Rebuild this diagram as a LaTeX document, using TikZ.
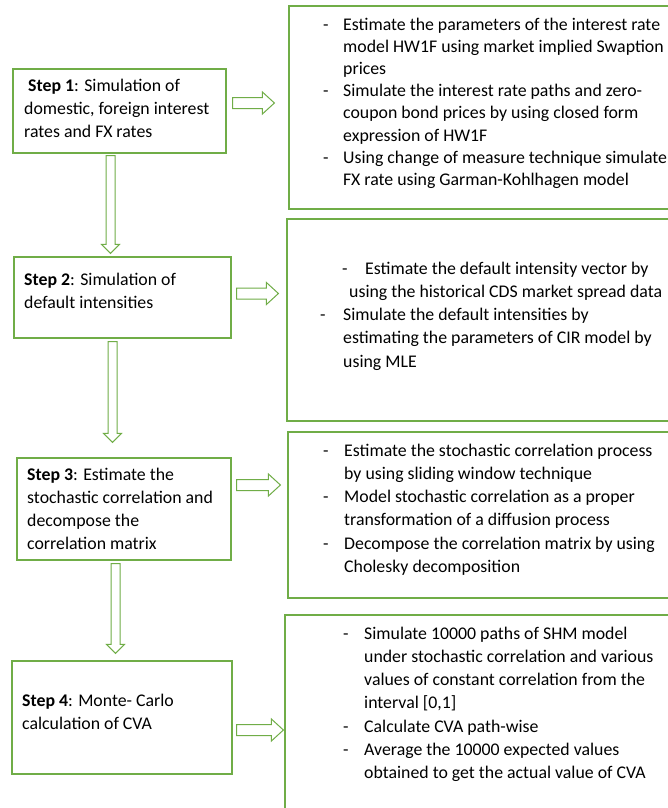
\documentclass[tikz,border=0pt]{standalone}
\usepackage{fontspec}
\setmainfont{Carlito}
\usetikzlibrary{calc,fit}
\definecolor{stepgreen}{HTML}{70AD47}
\newcommand\dashitem[1][20pt]{\makebox[#1][l]{-}}
\newcommand\indentby[1][20pt]{\hspace*{#1}}

\begin{document}
\begin{tikzpicture}[x=1pt,y=-1pt,
    stepbox/.style={draw=stepgreen, line width=1.2pt, inner sep=0pt},
    steptext/.style={anchor=base west, inner sep=0pt, align=left,
        font=\fontsize{17.8}{23.3}\selectfont},
    harrow/.style={draw=stepgreen, line width=1pt, line join=miter,
        to path={let \p1=(\tikztostart), \p2=(\tikztotarget) in
        (\x1,\y1+5.5pt) -- (\x2-12pt,\y1+5.5pt) -- (\x2-12pt,\y1+11pt) -- (\x2,\y1)
        -- (\x2-12pt,\y1-11pt) -- (\x2-12pt,\y1-5.5pt) -- (\x1,\y1-5.5pt) -- cycle}},
    varrow/.style={draw=stepgreen, line width=1pt, line join=miter,
        to path={let \p1=(\tikztostart), \p2=(\tikztotarget) in
        (\x1-4.5pt,\y1) -- (\x1-4.5pt,\y2+9pt) -- (\x1-9pt,\y2+9pt) -- (\x1,\y2)
        -- (\x1+9pt,\y2+9pt) -- (\x1+4.5pt,\y2+9pt) -- (\x1+4.5pt,\y1) -- cycle}}]
    \path[use as bounding box, fill=white] (0,0) rectangle (668,808);
    \clip (0,0) rectangle (668,808);

    % steps on the left
    \node[stepbox, fit={(13,69) (226,153)}] (s1) {};
    \node[stepbox, fit={(14,257) (231,338)}] (s2) {};
    \node[stepbox, fit={(17,458) (231,560)}] (s3) {};
    \node[stepbox, fit={(12,661) (232,774)}] (s4) {};

    % details on the right
    \node[stepbox, fit={(289,6) (700,209)}] (d1) {};
    \node[stepbox, fit={(287,219) (700,421)}] (d2) {};
    \node[stepbox, fit={(288,432) (700,598)}] (d3) {};
    \node[stepbox, fit={(285,615) (700,830)}] (d4) {};

    % texts (placed at the baseline of their last line)
    \node[steptext] (t1) at (24,137.6) {\indentby[4pt]\textbf{Step 1}: Simulation of\\
        domestic, foreign interest\\ rates and FX rates};
    \node[steptext] (t2) at (24,308.3) {\textbf{Step 2}: Simulation of\\ default intensities};
    \node[steptext] (t3) at (27,549.9) {\textbf{Step 3}: Estimate the\\
        stochastic correlation and\\ decompose the\\ correlation matrix};
    \node[steptext] (t4) at (22,729.3) {\textbf{Step 4}: Monte- Carlo\\ calculation of CVA};

    \node[steptext, font=\fontsize{17.8}{22.2}\selectfont] (b1) at (323,185.4) {%
        \dashitem Estimate the parameters of the interest rate\\
        \indentby model HW1F using market implied Swaption\\
        \indentby prices\\
        \dashitem Simulate the interest rate paths and zero-\\
        \indentby coupon bond prices by using closed form\\
        \indentby expression of HW1F\\
        \dashitem Using change of measure technique simulate\\
        \indentby FX rate using Garman-Kohlhagen model};
    \node[steptext] (b2) at (320,367.2) {%
        \indentby[22pt]\dashitem[23pt]Estimate the default intensity vector by\\
        \indentby[29pt]using the historical CDS market spread data\\
        \dashitem[23pt]Simulate the default intensities by\\
        \indentby[23pt]estimating the parameters of CIR model by\\
        \indentby[23pt]using MLE};
    \node[steptext] (b3) at (323,572.5) {%
        \dashitem[21pt]Estimate the stochastic correlation process\\
        \indentby[21pt]by using sliding window technique\\
        \dashitem[21pt]Model stochastic correlation as a proper\\
        \indentby[21pt]transformation of a diffusion process\\
        \dashitem[21pt]Decompose the correlation matrix by using\\
        \indentby[21pt]Cholesky decomposition};
    \node[steptext] (b4) at (343,778.8) {%
        \dashitem[21pt]Simulate 10000 paths of SHM model\\
        \indentby[21pt]under stochastic correlation and various\\
        \indentby[21pt]values of constant correlation from the\\
        \indentby[21pt]interval [0,1]\\
        \dashitem[21pt]Calculate CVA path-wise\\
        \dashitem[21pt]Average the 10000 expected values\\
        \indentby[21pt]obtained to get the actual value of CVA};

    % block arrows
    \draw[harrow] ([xshift=6pt,yshift=8pt]s1.east) to ([xshift=-14pt]d1.west);
    \draw[harrow] ([xshift=5pt,yshift=4pt]s2.east) to ([xshift=-8pt]d2.west);
    \draw[harrow] ([xshift=5pt,yshift=24pt]s3.east) to ([xshift=-7pt]d3.west);
    \draw[harrow] ([xshift=4pt,yshift=-12.5pt]s4.east) to ([xshift=-1pt]d4.west);

    \draw[varrow] ([xshift=-9pt,yshift=-2pt]s1.south) to ([yshift=3pt]s2.north);
    \draw[varrow] ([xshift=-10pt,yshift=-3pt]s2.south) to ([yshift=15pt]s3.north);
    \draw[varrow] ([xshift=-8.5pt,yshift=-3pt]s3.south) to ([yshift=7pt]s4.north);
\end{tikzpicture}
\end{document}
